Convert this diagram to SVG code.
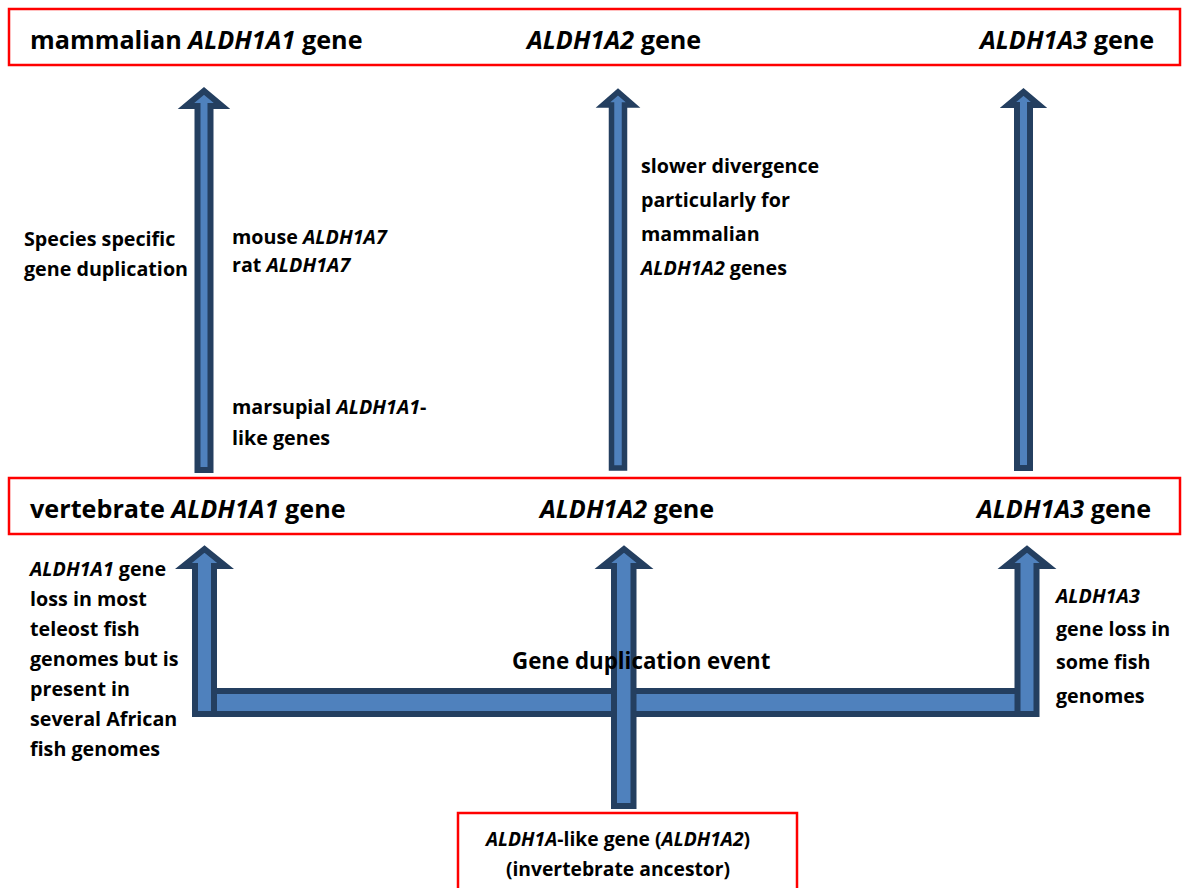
<svg xmlns="http://www.w3.org/2000/svg" width="1182" height="888" viewBox="0 0 1182 888">
<style>
.box{fill:#ffffff;stroke:#ff0000;stroke-width:2.5}
.arr{fill:#4f81bd;stroke:#243f60;stroke-linejoin:miter}
.t{font-family:"Open Sans","Noto Sans","Liberation Sans",sans-serif;font-weight:bold;fill:#000}
.big{font-size:25.2px}
.sm{font-size:19.7px}
.bx{font-size:19.3px}
.mid{font-size:22.3px}
.i{font-style:italic}
</style>
<rect width="1182" height="888" fill="#ffffff"/>
<g id="connectors">
  <rect class="arr" x="200" y="691" width="822" height="23" stroke-width="6"/>
  <polygon class="arr" stroke-width="6" points="197.5,470 197.5,106 186,106 204,91 222,106 210.5,106 210.5,470"/>
  <polygon class="arr" stroke-width="5.5" points="611.5,468 611.5,105 603,105 618,92 633,105 624.5,105 624.5,468"/>
  <polygon class="arr" stroke-width="6" points="1017,468 1017,105 1008,105 1023.5,92 1039,105 1030,105 1030,468"/>
  <polygon class="arr" stroke-width="6" points="195,714 195,566 183.5,566 204.5,549 225.5,566 214,566 214,714"/>
  <polygon class="arr" stroke-width="6" points="614,806 614,566 603,566 624,549 645,566 633.5,566 633.5,806"/>
  <polygon class="arr" stroke-width="6" points="1017.5,714 1017.5,566 1006,566 1027,549 1048,566 1036.5,566 1036.5,714"/>
</g>
<g id="top-box">
  <rect class="box" x="9" y="9" width="1171" height="56"/>
  <text class="t big" x="30" y="49">mammalian <tspan class="i">ALDH1A1</tspan> gene</text>
  <text class="t big" x="527" y="49"><tspan class="i">ALDH1A2</tspan> gene</text>
  <text class="t big" x="980" y="49"><tspan class="i">ALDH1A3</tspan> gene</text>
</g>
<g id="middle-box">
  <rect class="box" x="9" y="478" width="1171" height="56"/>
  <text class="t big" x="30" y="518">vertebrate <tspan class="i">ALDH1A1</tspan> gene</text>
  <text class="t big" x="540" y="518"><tspan class="i">ALDH1A2</tspan> gene</text>
  <text class="t big" x="977" y="518"><tspan class="i">ALDH1A3</tspan> gene</text>
</g>
<g id="bottom-box">
  <rect class="box" x="458" y="813" width="339" height="90"/>
  <text class="t bx" x="618" y="846" text-anchor="middle"><tspan class="i">ALDH1A</tspan>-like gene (<tspan class="i">ALDH1A2</tspan>)</text>
  <text class="t bx" x="618" y="876" text-anchor="middle">(invertebrate ancestor)</text>
</g>
<g id="label-species">
  <text class="t sm" x="24" y="246">Species specific</text>
  <text class="t sm" x="24" y="276">gene duplication</text>
</g>
<g id="label-mouse">
  <text class="t sm" x="232" y="244">mouse <tspan class="i">ALDH1A7</tspan></text>
  <text class="t sm" x="232" y="272">rat <tspan class="i">ALDH1A7</tspan></text>
</g>
<g id="label-marsupial">
  <text class="t sm" x="232" y="414">marsupial <tspan class="i">ALDH1A1</tspan>-</text>
  <text class="t sm" x="232" y="445">like genes</text>
</g>
<g id="label-slower">
  <text class="t sm" x="641" y="173">slower divergence</text>
  <text class="t sm" x="641" y="207">particularly for</text>
  <text class="t sm" x="641" y="241">mammalian</text>
  <text class="t sm" x="641" y="275"><tspan class="i">ALDH1A2</tspan> genes</text>
</g>
<g id="label-loss1">
  <text class="t sm" x="30" y="576"><tspan class="i">ALDH1A1</tspan> gene</text>
  <text class="t sm" x="30" y="606">loss in most</text>
  <text class="t sm" x="30" y="636">teleost fish</text>
  <text class="t sm" x="30" y="666">genomes but is</text>
  <text class="t sm" x="30" y="696">present in</text>
  <text class="t sm" x="30" y="726">several African</text>
  <text class="t sm" x="30" y="756">fish genomes</text>
</g>
<g id="label-loss3">
  <text class="t sm" x="1056" y="603"><tspan class="i">ALDH1A3</tspan></text>
  <text class="t sm" x="1056" y="636">gene loss in</text>
  <text class="t sm" x="1056" y="669">some fish</text>
  <text class="t sm" x="1056" y="703">genomes</text>
</g>
<g id="label-dup">
  <text class="t mid" x="512" y="669">Gene duplication event</text>
</g>
</svg>
